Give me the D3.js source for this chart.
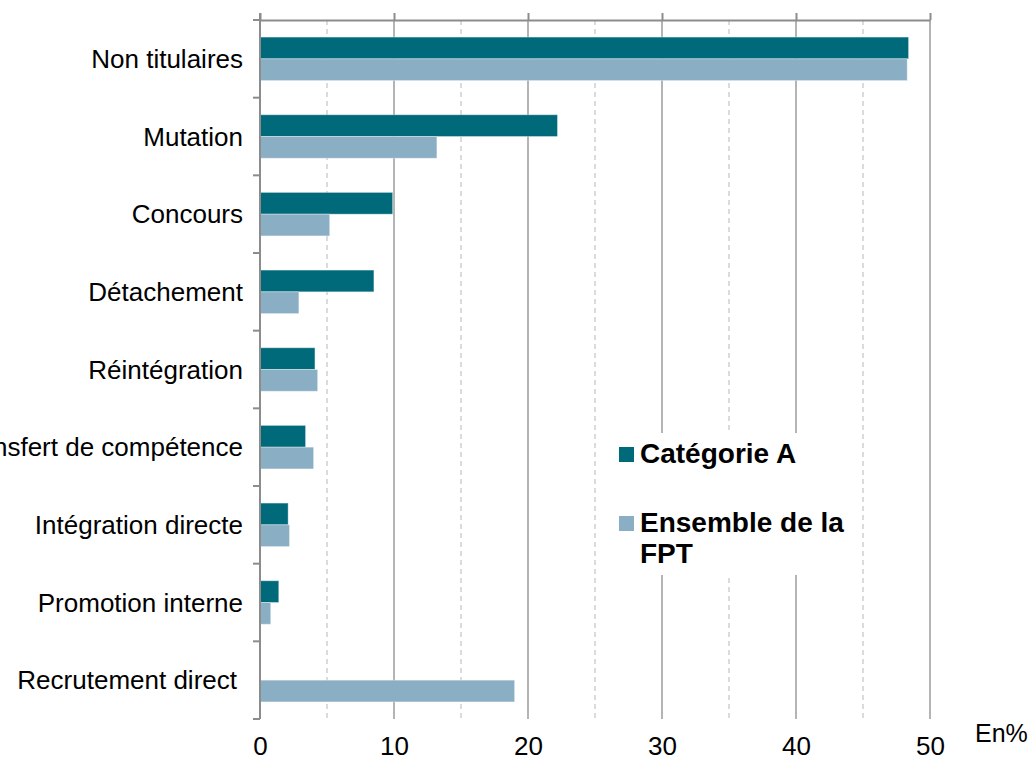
<!DOCTYPE html>
<html>
<head>
<meta charset="utf-8">
<script src="https://cdn.jsdelivr.net/npm/d3@7"></script>
<style>
  body { margin: 0; background: #fff; }
  svg { display: block; font-family: "Liberation Sans", Arial, sans-serif; }
</style>
</head>
<body>
<svg id="chart" width="1031" height="761"></svg>
<script>
// categories top to bottom
const categories = [
    "Non titulaires", "Mutation", "Concours", "Détachement", "Réintégration",
    "Transfert de compétence", "Intégration directe", "Promotion interne", "Recrutement direct"
];
const seriesNames = ["Catégorie A", "Ensemble de la FPT"];
const categorieA = [48.4, 22.2, 9.9, 8.5, 4.1, 3.4, 2.1, 1.4, null];
const ensembleFPT = [48.3, 13.2, 5.2, 2.9, 4.3, 4.0, 2.2, 0.8, 19.0];
const xTicks = [0, 10, 20, 30, 40, 50];
const gridValues = [5, 10, 15, 20, 25, 30, 35, 40, 45, 50];
const colors = ["#006a7a", "#8aaec4"];

const svg = d3.select("#chart");
const plotLeft = 260, plotRight = 930, plotTop = 20, plotBottom = 719;

const x = d3.scaleLinear().domain([0, 50]).range([plotLeft, plotRight]);
const y = d3.scaleBand().domain(categories).range([plotTop, plotBottom])
    .paddingInner(0.44).paddingOuter(0.22);
const ySub = d3.scaleBand().domain(seriesNames).range([0, y.bandwidth()]);

// gridlines (solid every 10, dashed every 5)
svg.append("g").selectAll("line")
    .data(gridValues)
    .join("line")
    .attr("x1", d => x(d)).attr("x2", d => x(d))
    .attr("y1", plotTop).attr("y2", plotBottom)
    .attr("stroke", d => d % 10 === 0 ? "#8c8c8c" : "#c8c8c8")
    .attr("stroke-width", 1.3)
    .attr("stroke-dasharray", d => d % 10 === 0 ? null : "5,4");

// bars
const rows = categories.map((c, i) => ({ cat: c, vals: [categorieA[i], ensembleFPT[i]] }));
const groups = svg.append("g").selectAll("g")
    .data(rows)
    .join("g")
    .attr("transform", d => `translate(0,${y(d.cat)})`);

groups.selectAll("rect")
    .data(d => d.vals.map((v, j) => ({ s: seriesNames[j], v, j })).filter(e => e.v != null))
    .join("rect")
    .attr("x", x(0))
    .attr("y", d => ySub(d.s))
    .attr("width", d => x(d.v) - x(0))
    .attr("height", ySub.bandwidth())
    .attr("fill", d => colors[d.j])
    .attr("stroke", "#ffffff")
    .attr("stroke-opacity", 0.35)
    .attr("stroke-width", 1);

// top axis (ticks pointing up, no labels)
const topAxis = svg.append("g")
    .attr("transform", `translate(0,${plotTop})`)
    .call(d3.axisTop(x).tickValues(xTicks).tickSize(7).tickSizeOuter(0).tickFormat(""));
topAxis.select(".domain").attr("stroke", "#8c8c8c").attr("stroke-width", 2);
topAxis.selectAll(".tick line").attr("stroke", "#8c8c8c").attr("stroke-width", 2);

// left axis with ticks at category boundaries
const step = y.step();
const boundaries = d3.range(categories.length + 1).map(i => plotTop + i * step);
const leftG = svg.append("g");
leftG.append("line")
    .attr("x1", plotLeft).attr("x2", plotLeft)
    .attr("y1", plotTop - 7).attr("y2", plotBottom)
    .attr("stroke", "#8c8c8c").attr("stroke-width", 2);
leftG.selectAll("line.tk")
    .data(boundaries)
    .join("line")
    .attr("class", "tk")
    .attr("x1", plotLeft - 7).attr("x2", plotLeft)
    .attr("y1", d => d).attr("y2", d => d)
    .attr("stroke", "#8c8c8c").attr("stroke-width", 2);

// category labels
svg.append("g").selectAll("text")
    .data(categories)
    .join("text")
    .attr("x", d => d === "Recrutement direct" ? 237 : 243)
    .attr("y", d => y(d) + y.bandwidth() / 2)
    .attr("dy", "0.35em")
    .attr("text-anchor", "end")
    .attr("font-size", 26)
    .attr("fill", "#000")
    .text(d => d);

// bottom tick labels
const bottomAxis = svg.append("g")
    .attr("transform", `translate(0,${plotBottom})`)
    .call(d3.axisBottom(x).tickValues(xTicks).tickSize(0).tickPadding(18));
bottomAxis.select(".domain").remove();
bottomAxis.selectAll("text")
    .attr("font-size", 26)
    .attr("font-family", "Liberation Sans, Arial, sans-serif")
    .attr("fill", "#000");

svg.append("text")
    .attr("x", 975).attr("y", 742)
    .attr("font-size", 25)
    .attr("fill", "#000")
    .text("En%");

// legend
const legend = svg.append("g");
legend.append("rect")
    .attr("x", 597).attr("y", 433).attr("width", 264).attr("height", 142)
    .attr("fill", "#fff");
const legendItems = [
    { lines: ["Catégorie A"], color: colors[0], y: 463 },
    { lines: ["Ensemble de la", "FPT"], color: colors[1], y: 532 }
];
legendItems.forEach(item => {
    legend.append("rect")
        .attr("x", 619).attr("y", item.y - 16)
        .attr("width", 15).attr("height", 15)
        .attr("fill", item.color);
    const t = legend.append("text")
        .attr("x", 640).attr("y", item.y)
        .attr("font-size", 28)
        .attr("font-weight", "bold")
        .attr("fill", "#000");
    item.lines.forEach((ln, i) => {
        t.append("tspan").attr("x", 640).attr("dy", i === 0 ? 0 : 31).text(ln);
    });
});
</script>
</body>
</html>
